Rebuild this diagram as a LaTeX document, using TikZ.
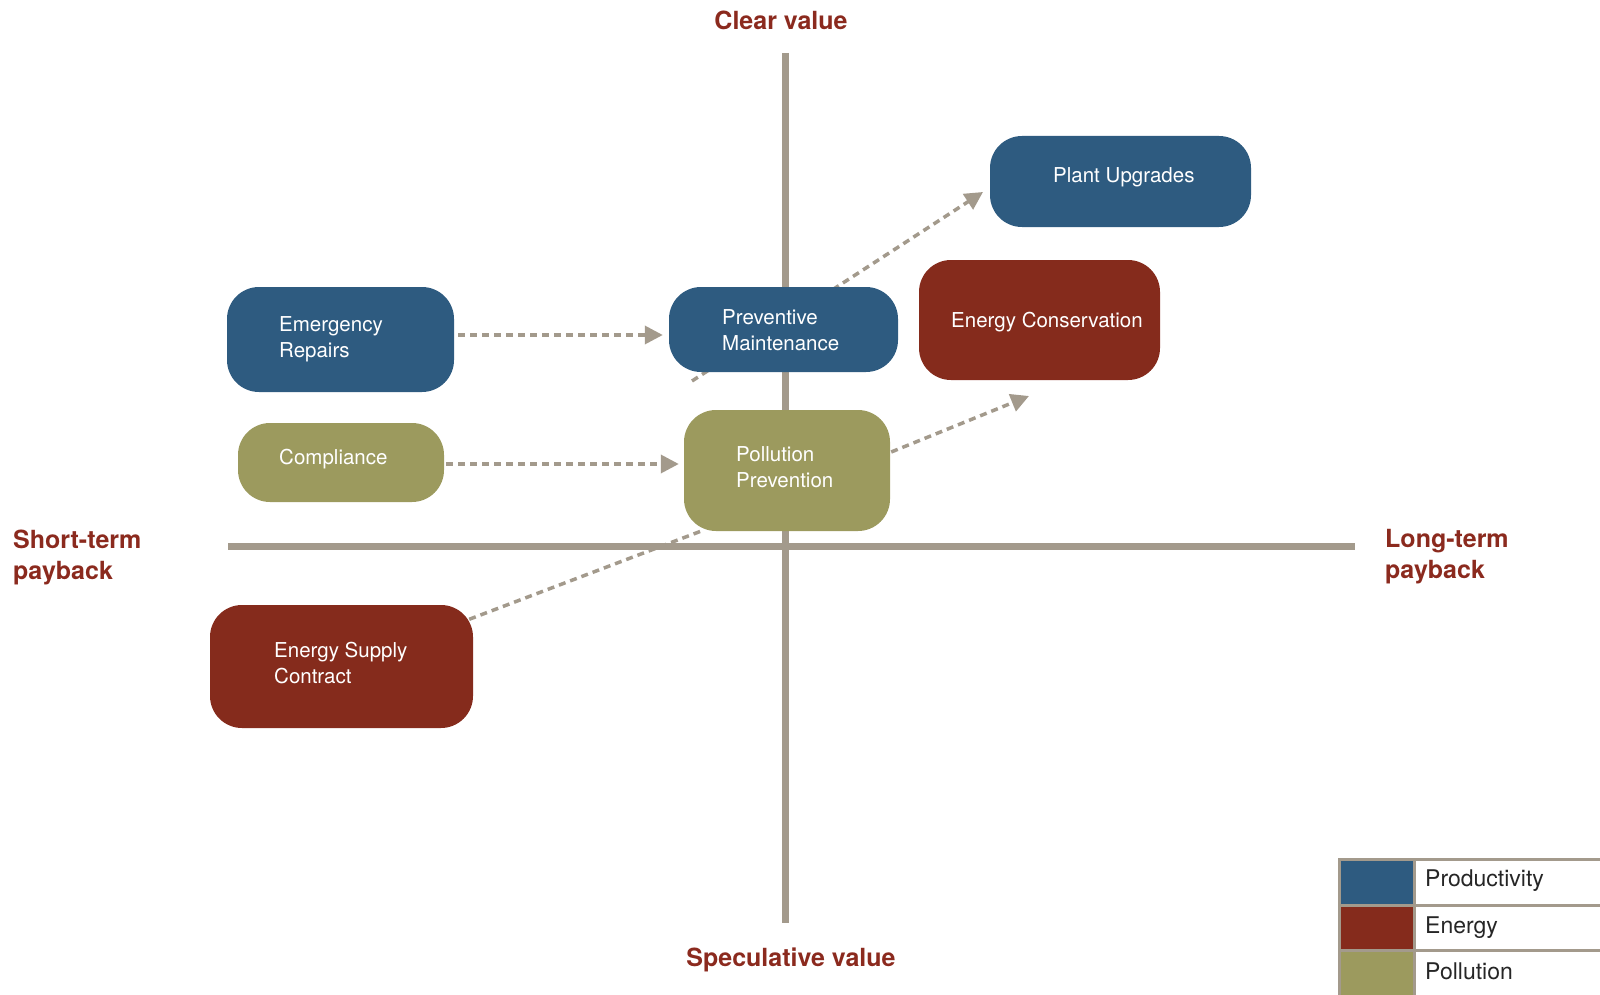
\documentclass[tikz,border=0pt]{standalone}
\usepackage{fontspec}
\setmainfont{TeX Gyre Heros}
\usetikzlibrary{arrows.meta}
\pgfdeclarelayer{bg}
\pgfsetlayers{bg,main}
\definecolor{prodblue}{HTML}{2E5B80}
\definecolor{energyred}{HTML}{852B1C}
\definecolor{pollolive}{HTML}{9C9A5E}
\definecolor{axisgray}{HTML}{A39A8C}
\definecolor{titlered}{HTML}{8B2A1E}
\tikzset{
  box/.style={rectangle, rounded corners=32pt, inner sep=0pt, draw=none},
  boxtext/.style={anchor=west, align=left, text=white, inner sep=0pt,
    font=\fontsize{20.5}{26}\selectfont},
  axis/.style={draw=axisgray, line width=7pt},
  link/.style={draw=axisgray, line width=3.5pt, dash pattern=on 7pt off 5pt},
  linkarrow/.style={link, -{Triangle[length=18pt,width=18pt,fill=axisgray]}},
  axtitle/.style={text=titlered, inner sep=0pt, font=\fontsize{25}{31}\selectfont\bfseries},
  legtext/.style={anchor=west, inner sep=0pt, text=black!85, font=\fontsize{23}{28}\selectfont},
  legcell/.style={draw=axisgray, line width=3pt}
}
\begin{document}
\begin{tikzpicture}[x=1pt, y=-1pt]
\useasboundingbox (0,0) rectangle (1600,995);
% axes
\coordinate (vtop) at (785,53);
\coordinate (vbot) at (785,923);
\coordinate (hleft) at (228,546);
\coordinate (hright) at (1355,546);
\draw[axis] (vtop) -- (vbot);
\draw[axis] (hleft) -- (hright);
% titles
\node[axtitle] (tclear) at (781,20) {Clear value};
\node[axtitle] (tspec) at (791,960) {Speculative value};
\node[axtitle, anchor=west, align=left] (tshort) at (13,557) {Short-term\\payback};
\node[axtitle, anchor=west, align=left] (tlong) at (1385,557) {Long-term\\payback};
% boxes
\node[box, fill=prodblue, minimum width=261pt, minimum height=91pt] (pu) at (1120.5,181.5) {};
\node[box, fill=energyred, minimum width=241pt, minimum height=120pt] (ec) at (1039.5,320) {};
\node[box, fill=prodblue, minimum width=227pt, minimum height=105pt] (er) at (340.5,339.5) {};
\node[box, fill=prodblue, minimum width=229pt, minimum height=85pt] (pm) at (783.5,329.5) {};
\node[box, fill=pollolive, minimum width=206pt, minimum height=79pt] (co) at (341,462.5) {};
\node[box, fill=pollolive, minimum width=206pt, minimum height=121pt] (pp) at (787,470.5) {};
\node[box, fill=energyred, minimum width=263pt, minimum height=123pt] (esc) at (341.5,666.5) {};
% box texts
\node[boxtext] (puT) at (1053,177) {Plant Upgrades};
\node[boxtext] (ecT) at (951,322) {Energy Conservation};
\node[boxtext] (erT) at (279,339) {Emergency\\Repairs};
\node[boxtext] (pmT) at (722,330) {Preventive\\Maintenance};
\node[boxtext] (coT) at (279,459) {Compliance};
\node[boxtext] (ppT) at (736,467.5) {Pollution\\Prevention};
\node[boxtext] (escT) at (274,663.5) {Energy Supply\\Contract};
% connectors
\coordinate (pmstart) at (692,381);
\coordinate (putip) at (983,192);
\coordinate (ectip) at (1029,396);
\coordinate (escend) at (704,530);
\begin{pgfonlayer}{bg}
\draw[linkarrow] ([xshift=4pt,yshift=4.5pt]er.east) -- ([xshift=-6pt,yshift=-5.5pt]pm.west);
\draw[linkarrow] ([xshift=2pt,yshift=-1.5pt]co.east) -- ([xshift=-5pt,yshift=6.5pt]pp.west);
\draw[linkarrow] (pmstart) -- (putip);
\draw[linkarrow] ([xshift=1pt,yshift=18.5pt]pp.east) -- (ectip);
\draw[link] ([xshift=-4pt,yshift=-14.5pt]esc.north east) -- (escend);
\end{pgfonlayer}
% legend
\draw[legcell, fill=prodblue] (1339,859) rectangle (1414,905);
\draw[legcell, fill=energyred] (1339,905) rectangle (1414,950);
\draw[legcell, fill=pollolive] (1339,950) rectangle (1414,998);
\draw[legcell, fill=white] (1414,859) rectangle (1603,905);
\draw[legcell, fill=white] (1414,905) rectangle (1603,950);
\draw[legcell, fill=white] (1414,950) rectangle (1603,998);
\node[legtext] (lprod) at (1425,881) {Productivity};
\node[legtext] (lener) at (1425,928) {Energy};
\node[legtext] (lpoll) at (1425,971) {Pollution};
\end{tikzpicture}
\end{document}
